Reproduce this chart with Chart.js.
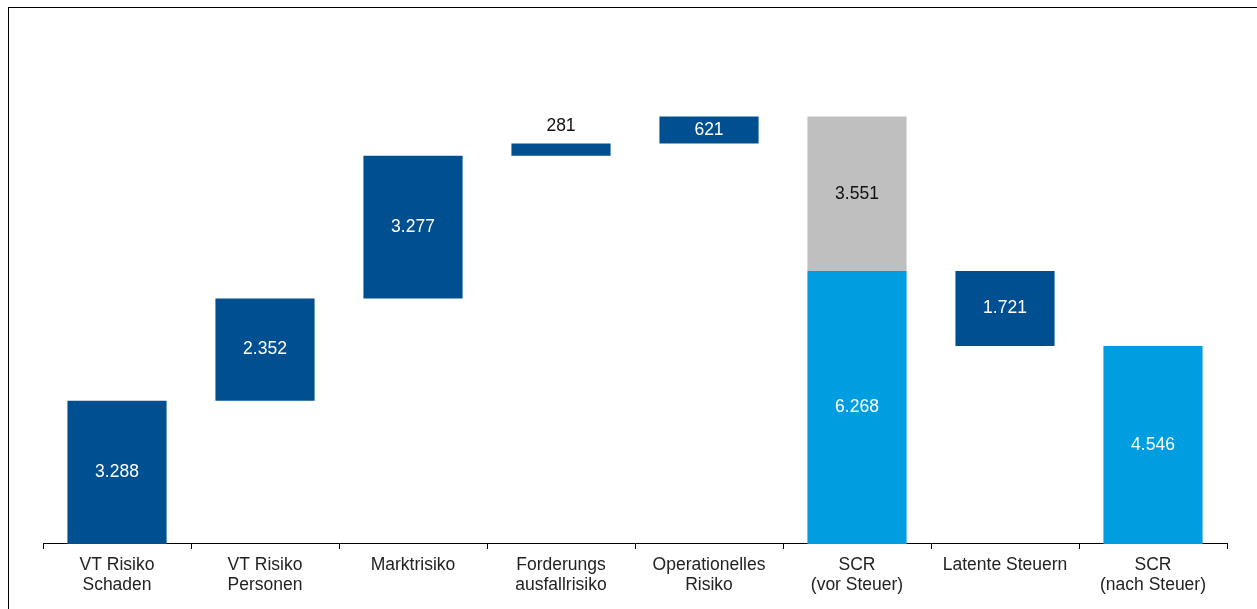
<!DOCTYPE html>
<html>
<head>
<meta charset="utf-8">
<script src="https://cdn.jsdelivr.net/npm/chart.js@4"></script>
<style>
  html, body { margin: 0; padding: 0; background: #fff; }
  #wrap { position: relative; width: 1257px; height: 609px; }
  #frame { position: absolute; left: 8px; top: 7px; right: -2px; bottom: -2px; border-left: 1px solid #000; border-top: 1px solid #000; }
  canvas { position: absolute; left: 0; top: 0; }
</style>
</head>
<body>
<div id="wrap">
  <div id="frame"></div>
  <canvas id="scr_chart" width="1257" height="609"></canvas>
</div>
<script>
// categories and values (in T€)
const categories = [
  ["VT Risiko", "Schaden"],
  ["VT Risiko", "Personen"],
  "Marktrisiko",
  ["Forderungs", "ausfallrisiko"],
  ["Operationelles", "Risiko"],
  ["SCR", "(vor Steuer)"],
  "Latente Steuern",
  ["SCR", "(nach Steuer)"],
];
const riskValues = [3288, 2352, 3277, 281, 621];
const scrBeforeTax = 6268;
const diversification = 3551;
const deferredTax = 1721;
const scrAfterTax = 4546;

const DARK = "rgb(0, 80, 145)";
const LIGHT = "rgb(0, 158, 224)";
const GREY = "rgb(191, 191, 191)";
const FONT = "'Liberation Sans', Arial, sans-serif";

// waterfall steps: each risk starts where the previous one ended
let running = 0;
const darkData = [];
for (const v of riskValues) {
  darkData.push([running, running + v]);
  running += v;
}
darkData.push(null);
darkData.push([scrBeforeTax - deferredTax, scrBeforeTax]);
darkData.push(null);
const darkLabels = riskValues.concat([null, deferredTax, null]);

const lightData = [null, null, null, null, null, [0, scrBeforeTax], null, [0, scrAfterTax]];
const lightLabels = [null, null, null, null, null, scrBeforeTax, null, scrAfterTax];

const greyData = [null, null, null, null, null, [scrBeforeTax, scrBeforeTax + diversification], null, null];
const greyLabels = [null, null, null, null, null, diversification, null, null];

function fmt(v) {
  return v.toLocaleString("de-DE");
}

// value labels: centred in the bar, small bars get the label above
const valueLabels = {
  id: "valueLabels",
  afterDatasetsDraw(chart) {
    const ctx = chart.ctx;
    ctx.save();
    ctx.font = "17.5px " + FONT;
    ctx.textAlign = "center";
    ctx.textBaseline = "middle";
    chart.data.datasets.forEach((ds, i) => {
      const meta = chart.getDatasetMeta(i);
      meta.data.forEach((bar, j) => {
        const v = ds.valueLabels[j];
        if (v == null) return;
        const top = Math.min(bar.y, bar.base);
        const h = Math.abs(bar.base - bar.y);
        if (h < 20) {
          ctx.fillStyle = "#111";
          ctx.fillText(fmt(v), bar.x, top - 17);
        } else {
          ctx.fillStyle = ds.labelColor;
          ctx.fillText(fmt(v), bar.x, top + h / 2);
        }
      });
    });
    ctx.restore();
  },
};

const ctxEl = document.getElementById("scr_chart");
new Chart(ctxEl, {
  type: "bar",
  data: {
    labels: categories,
    datasets: [
      { data: darkData, valueLabels: darkLabels, labelColor: "#fff", backgroundColor: DARK },
      { data: lightData, valueLabels: lightLabels, labelColor: "#fff", backgroundColor: LIGHT },
      { data: greyData, valueLabels: greyLabels, labelColor: "#111", backgroundColor: GREY },
    ],
  },
  options: {
    responsive: false,
    animation: false,
    layout: { padding: { left: 43, right: 30, top: 65, bottom: 8 } },
    datasets: {
      bar: { grouped: false, categoryPercentage: 1, barPercentage: 0.67, borderSkipped: false },
    },
    plugins: {
      legend: { display: false },
      tooltip: { enabled: false },
    },
    scales: {
      x: {
        grid: { display: true, drawOnChartArea: false, drawTicks: true, tickLength: 5, color: "#000", offset: true },
        border: { display: true, color: "#000", width: 1 },
        ticks: {
          color: "#222",
          padding: 6,
          maxRotation: 0,
          autoSkip: false,
          font: { family: FONT, size: 17.5, lineHeight: 1.143 },
        },
      },
      y: {
        display: false,
        min: 0,
        max: 11000,
      },
    },
  },
  plugins: [valueLabels],
});
</script>
</body>
</html>
